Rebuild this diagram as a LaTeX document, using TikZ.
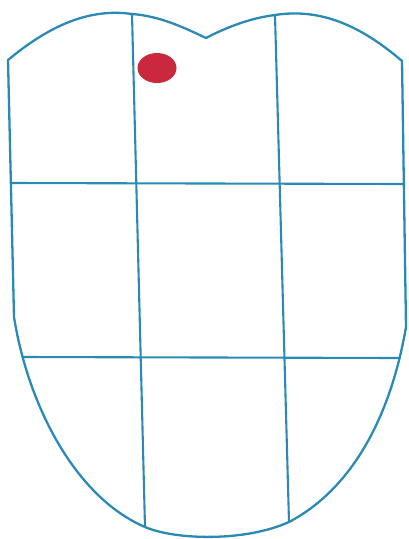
\documentclass[tikz,border=0pt]{standalone}
\usepackage{xcolor}
\usepackage{tikz}
\usetikzlibrary{calc}
\definecolor{mapblue}{HTML}{2A8AB6}
\definecolor{spotred}{HTML}{C9283E}

\begin{document}
\begin{tikzpicture}[
        x=1pt, y=-1pt,
        outline/.style={mapblue, line width=2.3pt, line join=round},
        gridline/.style={mapblue, line width=2.1pt}
    ]
        \useasboundingbox (0,0) rectangle (408,539);

        % grid end points
        \coordinate (v1top) at (132,14);
        \coordinate (v1bot) at (145,527);
        \coordinate (v2top) at (275,15);
        \coordinate (v2bot) at (289,522);
        \coordinate (h1left) at (10,183);
        \coordinate (h1right) at (405,184);
        \coordinate (h2left) at (22,357);
        \coordinate (h2right) at (400,358);

        \draw[gridline] (v1top) -- (v1bot);
        \draw[gridline] (v2top) -- (v2bot);
        \draw[gridline] (h1left) -- (h1right);
        \draw[gridline] (h2left) -- (h2right);

        % outline
        \draw[outline] (8,60) -- (14,317)
            .. controls (28,405) and (75,497) .. (v1bot)
            .. controls (175,540) and (245,542) .. (v2bot)
            .. controls (350,490) and (390,420) .. (406,327)
            -- (402,61)
            .. controls (360,25) and (320,8) .. (v2top)
            .. controls (250,18) and (225,28) .. (206,38)
            .. controls (185,28) and (160,16) .. (v1top)
            .. controls (90,8) and (50,25) .. cycle;

        \fill[spotred] (157,68) ellipse [x radius=19.5, y radius=15];
    \end{tikzpicture}
\end{document}
